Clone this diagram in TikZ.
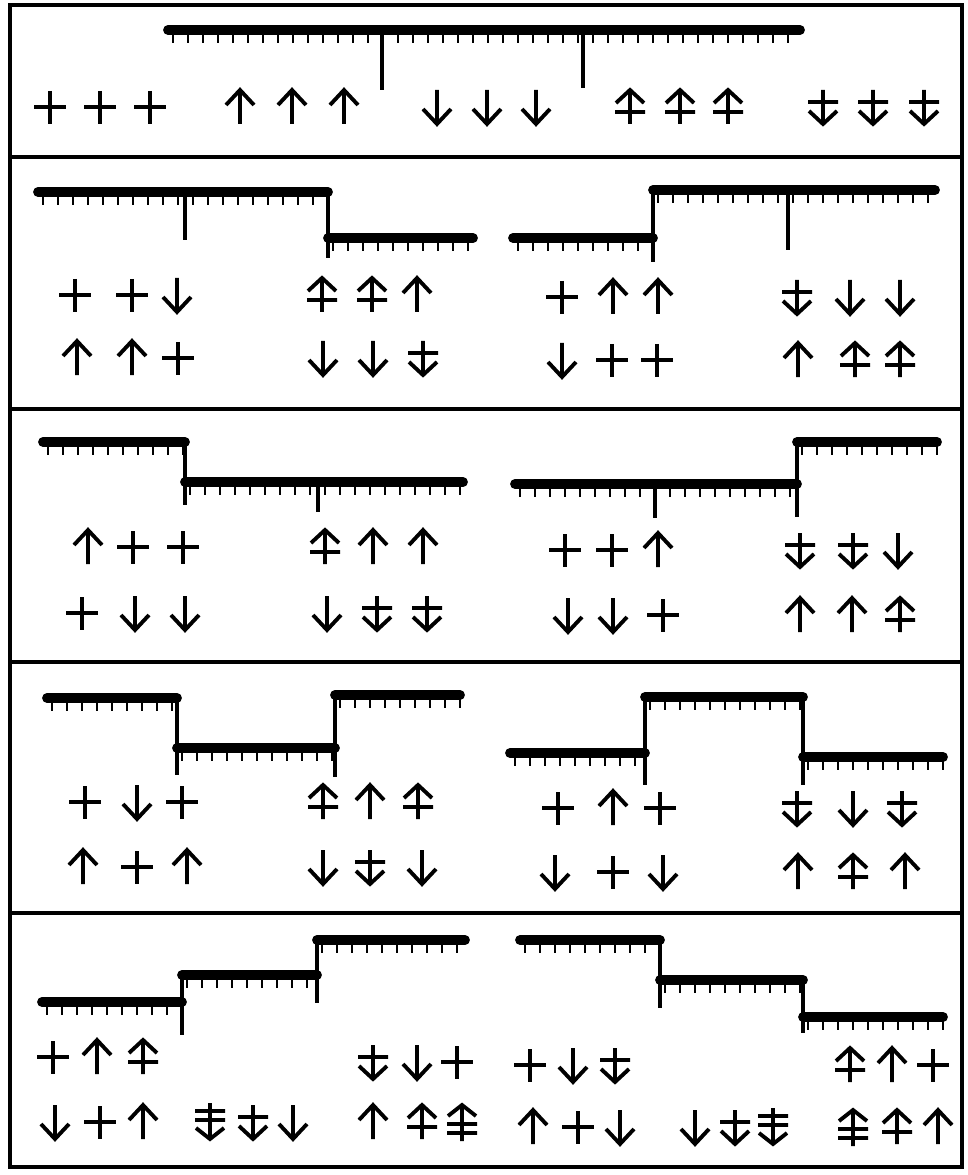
\documentclass[tikz,border=0pt]{standalone}
\begin{document}
\begin{tikzpicture}[x={(0.02cm,0)},y={(0,-0.02cm)},
  rulerline/.style={line width=5.6pt,line cap=round},
  tickmark/.style={line width=1.6pt},
  stepline/.style={line width=1.8pt},
  glyphline/.style={line width=2.2pt},
  frameline/.style={line width=1.8pt}]
\useasboundingbox (0,0) rectangle (967,1175);
% ---------- helpers
\newcommand\rul[3]{%
  \draw[rulerline] (#1,#3) -- (#2,#3);
  \pgfmathsetmacro\rta{#1+5}\pgfmathsetmacro\rtb{#1+20}%
  \foreach \t in {\rta,\rtb,...,#2}{\draw[tickmark] (\t,#3) -- (\t,#3+13);}}
\newcommand\glyph[3]{\begin{scope}[shift={(#1,#2)}]
  \ifcase#3\relax
   \draw[glyphline] (0,-16)--(0,17) (-16,0)--(16,0);
  \or \draw[glyphline] (0,17)--(0,-17) (-14,-2)--(0,-17)--(14,-2);
  \or \draw[glyphline] (0,-17)--(0,17) (-14,2)--(0,17)--(14,2);
  \or \draw[glyphline] (0,17)--(0,-17) (-14,-4)--(0,-17)--(14,-4) (-15,5)--(15,5);
  \or \draw[glyphline] (0,-17)--(0,17) (-14,4)--(0,17)--(14,4) (-15,-5)--(15,-5);
  \or \draw[glyphline] (0,19)--(0,-17) (-14,-6)--(0,-17)--(14,-6) (-15,2)--(15,2) (-15,11)--(15,11);
  \or \draw[glyphline] (0,-19)--(0,17) (-14,6)--(0,17)--(14,6) (-15,-2)--(15,-2) (-15,-11)--(15,-11);
  \fi\end{scope}}
\newcommand\grow[2]{\foreach \gx/\gc in {#2}{\glyph{\gx}{#1}{\gc}}}
% ---------- frame
\draw[frameline] (10,5) rectangle (962,1167);
\foreach \yy in {157,409,662,913}{\draw[frameline] (10,\yy) -- (962,\yy);}
% ---------- panel 1
\rul{168}{800}{30}
\draw[stepline] (382,30) -- (382,90);
\draw[stepline] (583,30) -- (583,88);
\grow{107}{50/0,100/0,150/0, 240/1,292/1,344/1, 437/2,487/2,536/2, 630/3,680/3,728/3, 823/4,873/4,924/4}
% ---------- panel 2
\rul{38}{328}{192}\rul{328}{473}{238}
\draw[stepline] (328,192) -- (328,258);
\draw[stepline] (185,192) -- (185,240);
\rul{513}{653}{238}\rul{653}{935}{190}
\draw[stepline] (653,190) -- (653,262);
\draw[stepline] (788,190) -- (788,250);
\grow{295}{75/0,132/0,177/2, 322/3,372/3,417/1}
\grow{358}{77/1,132/1,178/0, 323/2,373/2,423/4}
\grow{297}{562/0,613/1,658/1, 797/4,850/2,900/2}
\grow{360}{562/2,612/0,657/0, 798/1,855/3,900/3}
% ---------- panel 3
\rul{43}{185}{442}\rul{185}{463}{482}
\draw[stepline] (185,442) -- (185,505);
\draw[stepline] (318,482) -- (318,512);
\rul{515}{797}{484}\rul{797}{937}{442}
\draw[stepline] (797,442) -- (797,517);
\draw[stepline] (655,484) -- (655,518);
\grow{547}{88/1,133/0,183/0, 325/3,373/1,423/1}
\grow{613}{82/0,135/2,185/2, 327/2,377/4,427/4}
\grow{550}{565/0,612/0,658/1, 800/4,853/4,898/2}
\grow{615}{568/2,613/2,663/0, 800/1,852/1,900/3}
% ---------- panel 4
\rul{47}{177}{698}\rul{177}{335}{748}\rul{335}{460}{695}
\draw[stepline] (177,698) -- (177,775);
\draw[stepline] (335,695) -- (335,777);
\rul{510}{645}{753}\rul{645}{803}{697}\rul{803}{943}{757}
\draw[stepline] (645,697) -- (645,785);
\draw[stepline] (803,697) -- (803,785);
\grow{802}{85/0,137/2,182/0, 323/3,370/1,418/3}
\grow{867}{83/1,137/0,187/1, 323/2,370/4,422/2}
\grow{808}{558/0,613/1,660/0, 797/4,853/2,902/4}
\grow{872}{555/2,613/0,663/2, 798/1,853/3,905/1}
% ---------- panel 5
\rul{42}{182}{1002}\rul{182}{317}{975}\rul{317}{465}{940}
\draw[stepline] (182,975) -- (182,1035);
\draw[stepline] (317,940) -- (317,1003);
\rul{520}{660}{940}\rul{660}{803}{980}\rul{803}{943}{1017}
\draw[stepline] (660,940) -- (660,1008);
\draw[stepline] (803,980) -- (803,1033);
\grow{1057}{53/0,97/1,143/3}
\grow{1062}{373/4,417/2,457/0}
\grow{1122}{55/2,100/0,143/1, 210/6,253/4,293/2, 373/1,422/3,462/5}
\grow{1065}{530/0,573/2,615/4, 850/3,892/1,933/0}
\grow{1127}{533/1,578/0,620/2, 695/2,735/4,773/6, 853/5,897/3,938/1}
\end{tikzpicture}
\end{document}
